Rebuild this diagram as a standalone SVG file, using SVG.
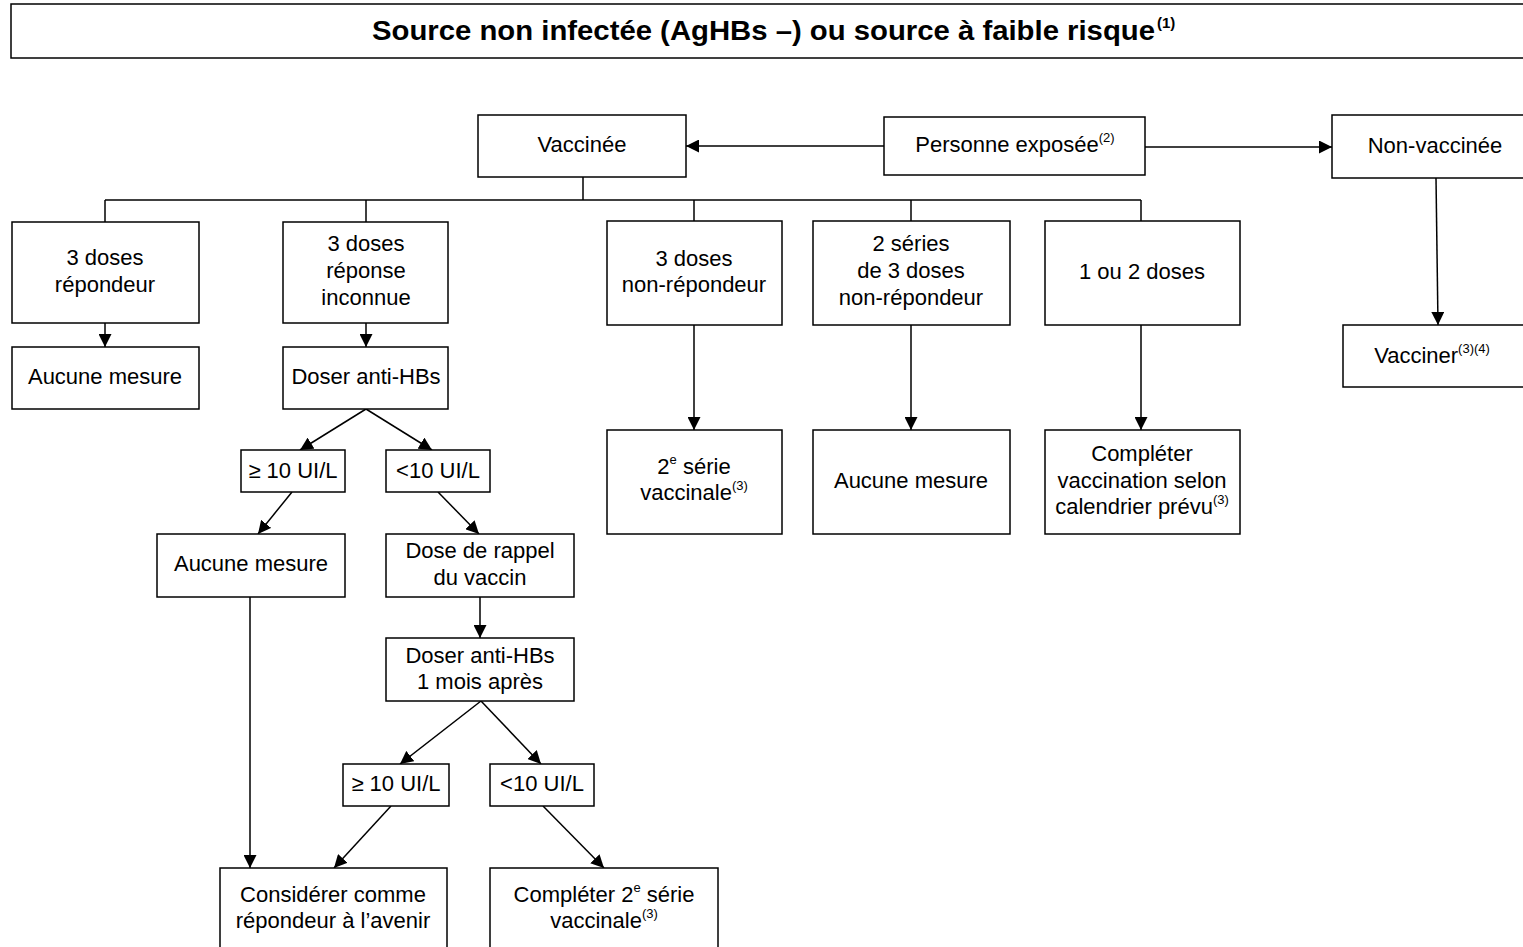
<svg xmlns="http://www.w3.org/2000/svg" width="1523" height="947" viewBox="0 0 1523 947">
<defs>
<marker id="ah" markerUnits="userSpaceOnUse" markerWidth="13" markerHeight="13" viewBox="0 0 13 13" refX="13" refY="6.5" orient="auto">
<path d="M0,0 L13,6.5 L0,13 Z" fill="#000"/>
</marker>
<style>
.box{fill:#fff;stroke:#000;stroke-width:1.5}
.t{font-family:"Liberation Sans",Arial,sans-serif;font-size:22px;fill:#000;text-anchor:middle}
.title{font-family:"Liberation Sans",Arial,sans-serif;font-size:27px;font-weight:bold;fill:#000}
.sup{font-size:13px}
.c{fill:none;stroke:#000;stroke-width:1.5}
.a{fill:none;stroke:#000;stroke-width:1.5;marker-end:url(#ah)}
</style>
</defs>
<rect width="1523" height="947" fill="#fff"/>
<g id="title">
<rect class="box" x="11" y="4" width="1530" height="54"/>
<text class="title" x="372" y="40" textLength="783" lengthAdjust="spacingAndGlyphs">Source non infectée (AgHBs –) ou source à faible risque</text>
<text class="title" x="1157" y="28" style="font-size:15px">(1)</text>
</g>
<g id="connectors">
<line class="a" x1="884" y1="146" x2="686" y2="146"/>
<line class="a" x1="1145" y1="147" x2="1332" y2="147"/>
<polyline class="c" points="583,177 583,200"/>
<line class="c" x1="105" y1="200" x2="1141" y2="200"/>
<line class="c" x1="105" y1="200" x2="105" y2="222"/>
<line class="c" x1="366" y1="200" x2="366" y2="222"/>
<line class="c" x1="694" y1="200" x2="694" y2="221"/>
<line class="c" x1="911" y1="200" x2="911" y2="221"/>
<line class="c" x1="1141" y1="200" x2="1141" y2="221"/>
<line class="a" x1="1436" y1="178" x2="1438" y2="325"/>
<line class="a" x1="105" y1="323" x2="105" y2="347"/>
<line class="a" x1="366" y1="323" x2="366" y2="347"/>
<line class="a" x1="694" y1="325" x2="694" y2="430"/>
<line class="a" x1="911" y1="325" x2="911" y2="430"/>
<line class="a" x1="1141" y1="325" x2="1141" y2="430"/>
<line class="a" x1="366" y1="409" x2="300" y2="450"/>
<line class="a" x1="366" y1="409" x2="432" y2="450"/>
<line class="a" x1="292" y1="492" x2="258" y2="534"/>
<line class="a" x1="438" y1="492" x2="479" y2="534"/>
<line class="a" x1="480" y1="597" x2="480" y2="638"/>
<line class="a" x1="481" y1="701" x2="400" y2="764"/>
<line class="a" x1="481" y1="701" x2="541" y2="764"/>
<line class="a" x1="391" y1="806" x2="334" y2="868"/>
<line class="a" x1="543" y1="806" x2="604" y2="868"/>
<line class="a" x1="250" y1="597" x2="250" y2="868"/>
</g>
<g id="vaccinee"><rect class="box" x="478" y="115" width="208" height="62"/><text class="t" x="582" y="152">Vaccinée</text></g>
<g id="personne"><rect class="box" x="884" y="117" width="261" height="58"/><text class="t" x="1015" y="152">Personne exposée<tspan class="sup" dy="-10">(2)</tspan></text></g>
<g id="nonvaccinee"><rect class="box" x="1332" y="115" width="210" height="63"/><text class="t" x="1435" y="153">Non-vaccinée</text></g>
<g id="vacciner"><rect class="box" x="1343" y="325" width="200" height="62"/><text class="t" x="1432" y="363">Vacciner<tspan class="sup" dy="-10">(3)(4)</tspan></text></g>
<g id="b3rep"><rect class="box" x="12" y="222" width="187" height="101"/><text class="t" x="105" y="265">3 doses</text><text class="t" x="105" y="292">répondeur</text></g>
<g id="b3inc"><rect class="box" x="283" y="222" width="165" height="101"/><text class="t" x="366" y="251">3 doses</text><text class="t" x="366" y="278">réponse</text><text class="t" x="366" y="305">inconnue</text></g>
<g id="b3non"><rect class="box" x="607" y="221" width="175" height="104"/><text class="t" x="694" y="266">3 doses</text><text class="t" x="694" y="292">non-répondeur</text></g>
<g id="b2ser"><rect class="box" x="813" y="221" width="197" height="104"/><text class="t" x="911" y="251">2 séries</text><text class="t" x="911" y="278">de 3 doses</text><text class="t" x="911" y="305">non-répondeur</text></g>
<g id="b12"><rect class="box" x="1045" y="221" width="195" height="104"/><text class="t" x="1142" y="279">1 ou 2 doses</text></g>
<g id="aucune1"><rect class="box" x="12" y="347" width="187" height="62"/><text class="t" x="105" y="384">Aucune mesure</text></g>
<g id="doser1"><rect class="box" x="283" y="347" width="165" height="62"/><text class="t" x="366" y="384">Doser anti-HBs</text></g>
<g id="serie2"><rect class="box" x="607" y="430" width="175" height="104"/><text class="t" x="694" y="474">2<tspan class="sup" dy="-10">e</tspan><tspan dy="10"> série</tspan></text><text class="t" x="694" y="500">vaccinale<tspan class="sup" dy="-10">(3)</tspan></text></g>
<g id="aucune2"><rect class="box" x="813" y="430" width="197" height="104"/><text class="t" x="911" y="488">Aucune mesure</text></g>
<g id="completer1"><rect class="box" x="1045" y="430" width="195" height="104"/><text class="t" x="1142" y="461">Compléter</text><text class="t" x="1142" y="488">vaccination selon</text><text class="t" x="1142" y="514">calendrier prévu<tspan class="sup" dy="-10">(3)</tspan></text></g>
<g id="ge10a"><rect class="box" x="241" y="450" width="104" height="42"/><text class="t" x="293" y="478">≥ 10 UI/L</text></g>
<g id="lt10a"><rect class="box" x="386" y="450" width="104" height="42"/><text class="t" x="438" y="478">&lt;10 UI/L</text></g>
<g id="aucune3"><rect class="box" x="157" y="534" width="188" height="63"/><text class="t" x="251" y="571">Aucune mesure</text></g>
<g id="rappel"><rect class="box" x="386" y="534" width="188" height="63"/><text class="t" x="480" y="558">Dose de rappel</text><text class="t" x="480" y="585">du vaccin</text></g>
<g id="doser2"><rect class="box" x="386" y="638" width="188" height="63"/><text class="t" x="480" y="663">Doser anti-HBs</text><text class="t" x="480" y="689">1 mois après</text></g>
<g id="ge10b"><rect class="box" x="343" y="764" width="106" height="42"/><text class="t" x="396" y="791">≥ 10 UI/L</text></g>
<g id="lt10b"><rect class="box" x="490" y="764" width="104" height="42"/><text class="t" x="542" y="791">&lt;10 UI/L</text></g>
<g id="considerer"><rect class="box" x="220" y="868" width="227" height="90"/><text class="t" x="333" y="902">Considérer comme</text><text class="t" x="333" y="928">répondeur à l’avenir</text></g>
<g id="completer2"><rect class="box" x="490" y="868" width="228" height="90"/><text class="t" x="604" y="902">Compléter 2<tspan class="sup" dy="-10">e</tspan><tspan dy="10"> série</tspan></text><text class="t" x="604" y="928">vaccinale<tspan class="sup" dy="-10">(3)</tspan></text></g>
</svg>
